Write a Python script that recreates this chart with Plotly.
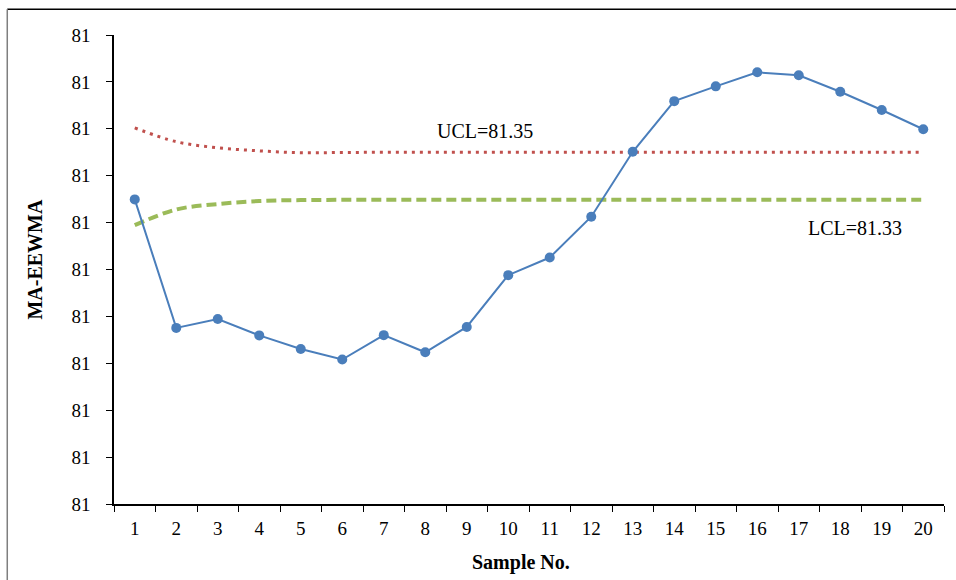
import plotly.graph_objects as go

samples = [str(i) for i in range(1, 21)]
ma_eewma = [81.3299, 81.2751, 81.2789, 81.2719, 81.2661, 81.2616, 81.2720, 81.2647, 81.2755, 81.2976,
            81.3051, 81.3225, 81.3502, 81.3718, 81.3781, 81.3841, 81.3828, 81.3758, 81.3680, 81.3598]
ucl = [81.3604, 81.3545, 81.3519, 81.3506, 81.3498, 81.3499, 81.3500, 81.3500, 81.3500, 81.3500,
       81.3500, 81.3500, 81.3500, 81.3500, 81.3500, 81.3500, 81.3500, 81.3500, 81.3500, 81.3500]
lcl = [81.3189, 81.3256, 81.3279, 81.3292, 81.3296, 81.3297, 81.3297, 81.3297, 81.3297, 81.3297,
       81.3297, 81.3297, 81.3297, 81.3297, 81.3297, 81.3297, 81.3297, 81.3297, 81.3297, 81.3297]
ucl_label = "UCL=81.35"
lcl_label = "LCL=81.33"

FONT = "Liberation Serif, Times New Roman, serif"

fig = go.Figure()
fig.add_trace(go.Scatter(x=samples, y=ucl, mode="lines", line=dict(color="#C0504D", width=3, dash="3px,5px", shape="spline"),
                         name="UCL", showlegend=False))
fig.add_trace(go.Scatter(x=samples, y=lcl, mode="lines", line=dict(color="#9BBB59", width=4, dash="10px,5px", shape="spline"),
                         name="LCL", showlegend=False))
fig.add_trace(go.Scatter(x=samples, y=ma_eewma, mode="lines+markers", line=dict(color="#4A7EBB", width=2),
                         marker=dict(color="#4A7EBB", size=10), name="MA-EEWMA", showlegend=False))

fig.add_annotation(x=8.444, y=81.3592, xref="x", yref="y", text=ucl_label, showarrow=False,
                   xanchor="center", yanchor="middle", font=dict(family=FONT, size=20, color="black"))
fig.add_annotation(x=17.355, y=81.3175, xref="x", yref="y", text=lcl_label, showarrow=False,
                   xanchor="center", yanchor="middle", font=dict(family=FONT, size=20, color="black"))
fig.add_annotation(x=-0.0952, y=0.5232, xref="paper", yref="paper", text="<b>MA-EEWMA</b>", textangle=-90,
                   xanchor="center", yanchor="middle", showarrow=False, font=dict(family=FONT, size=20, color="black"))
fig.add_annotation(x=0.4898, y=-0.1244, xref="paper", yref="paper", text="<b>Sample No.</b>",
                   xanchor="center", yanchor="middle", showarrow=False, font=dict(family=FONT, size=20, color="black"))

# outer chart frame (top and left edges visible)
fig.add_shape(type="line", xref="paper", yref="paper", x0=-0.1286, x1=1.03, y0=1.0548, y1=1.0548,
              line=dict(color="black", width=1.5))
fig.add_shape(type="line", xref="paper", yref="paper", x0=-0.1286, x1=-0.1286, y0=1.0548, y1=-0.2,
              line=dict(color="#7f7f7f", width=1.5))

fig.update_layout(
    width=956, height=580,
    margin=dict(l=114, r=12, t=35, b=76),
    paper_bgcolor="white", plot_bgcolor="white",
    font=dict(family=FONT, size=19, color="black"),
    showlegend=False,
)
fig.update_xaxes(type="category", tickson="boundaries", ticks="outside", ticklen=6, tickcolor="black",
                 showline=True, linecolor="black", linewidth=1.5, showgrid=False, zeroline=False,
                 range=[-0.5, 19.5], ticklabelstandoff=6, tickfont=dict(family=FONT, size=19))
fig.update_yaxes(range=[81.20, 81.40], dtick=0.02, tick0=81.20, tickformat=".0f", ticks="outside", ticklen=6,
                 tickcolor="black", showline=True, linecolor="black", linewidth=1.5, showgrid=False,
                 zeroline=False, ticklabelstandoff=12, tickfont=dict(family=FONT, size=19))

fig.write_html("out.html")
